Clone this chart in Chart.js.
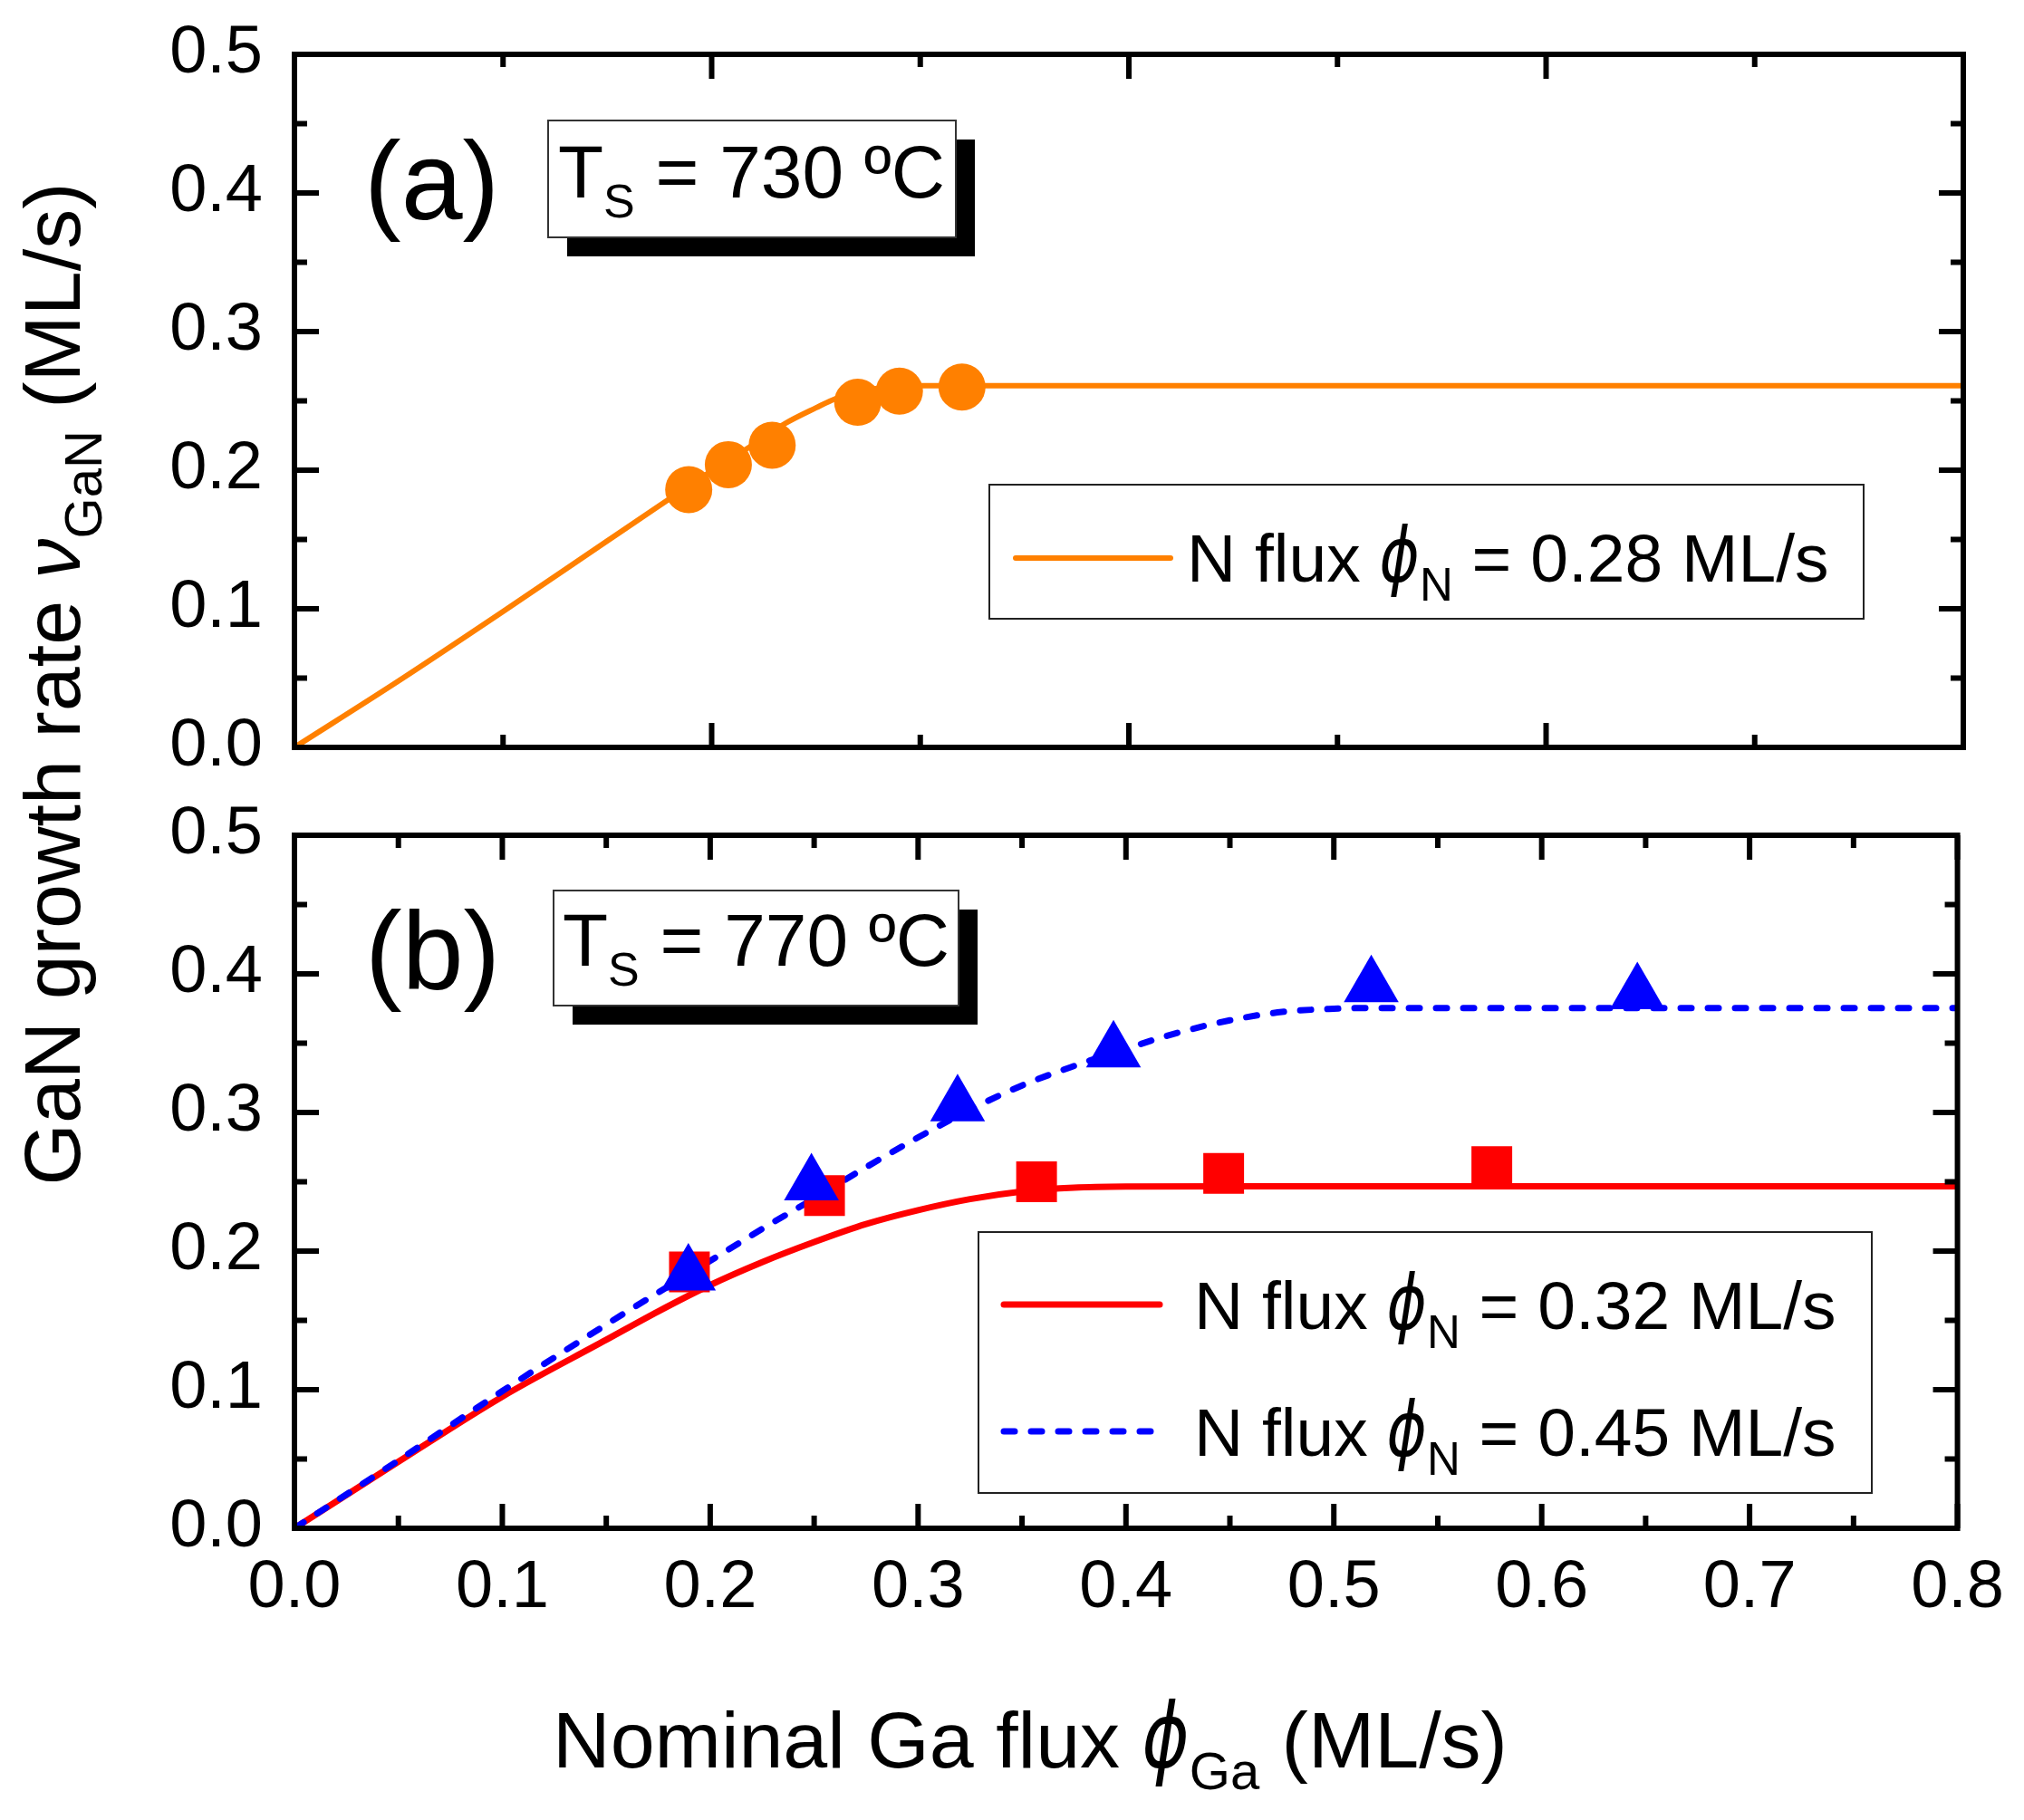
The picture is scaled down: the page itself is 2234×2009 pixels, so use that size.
<!DOCTYPE html>
<html><head><meta charset="utf-8">
<script src="https://cdn.jsdelivr.net/npm/chart.js@4.4.1/dist/chart.umd.min.js"></script>
<style>
html,body{margin:0;padding:0;background:#fff;}
#wrap{position:relative;width:2234px;height:2009px;background:#fff;}
canvas{position:absolute;left:0;top:0;width:2234px;height:2009px;}
</style></head><body>
<div id="wrap"><canvas id="ca" width="2234" height="2009"></canvas><canvas id="cb" width="2234" height="2009"></canvas></div>
<script>
// ---------- data ----------
// (a) Ts = 730 C
const ptsAx   = [0.189, 0.208, 0.229, 0.270, 0.290, 0.320];
const ptsAy   = [0.186, 0.204, 0.218, 0.249, 0.257, 0.260];
const curveAx = [0, 0.05, 0.10, 0.15, 0.20, 0.22, 0.235, 0.25, 0.26, 0.27, 0.28, 0.29, 0.30, 0.32, 0.80];
const curveAy = [0, 0.048, 0.098, 0.149, 0.1995, 0.2185, 0.2335, 0.245, 0.252, 0.2565, 0.2592, 0.2605, 0.261, 0.261, 0.261];
// (b) Ts = 770 C, red squares (0.32 ML/s)
const ptsRx   = [0.190, 0.255, 0.357, 0.447, 0.576];
const ptsRy   = [0.185, 0.240, 0.250, 0.256, 0.261];
const curveRx = [0, 0.05, 0.10, 0.15, 0.175, 0.20, 0.225, 0.25, 0.275, 0.30, 0.325, 0.35, 0.375, 0.40, 0.45, 0.80];
const curveRy = [0, 0.048, 0.095, 0.136, 0.1565, 0.1755, 0.192, 0.2065, 0.2195, 0.2295, 0.2375, 0.243, 0.2458, 0.2466, 0.2468, 0.2468];
// (b) blue triangles (0.45 ML/s)
const ptsBx   = [0.1895, 0.2487, 0.319, 0.394, 0.518, 0.646];
const ptsBy   = [0.183, 0.248, 0.305, 0.344, 0.391, 0.386];
const curveBx = [0, 0.05, 0.10, 0.15, 0.20, 0.225, 0.25, 0.275, 0.30, 0.325, 0.35, 0.375, 0.40, 0.425, 0.45, 0.475, 0.50, 0.52, 0.80];
const curveBy = [0, 0.049, 0.099, 0.147, 0.193, 0.216, 0.238, 0.2605, 0.282, 0.302, 0.3195, 0.3335, 0.346, 0.3575, 0.3665, 0.3725, 0.3748, 0.3754, 0.3754];
// labels
const nFlux   = ['0.28', '0.32', '0.45'];
const temps   = ['730', '770'];
const panels  = ['(a)', '(b)'];
const yTicks  = [0, 0.5, 0.1];   // min, max, step
const xTicks  = [0, 0.8, 0.1];

// ---------- helpers ----------
const FAM = "'Liberation Sans', Arial, Helvetica, sans-serif";
const PHI = "'DejaVu Sans'";
Chart.defaults.font.family = FAM;
Chart.defaults.color = '#000';
const ORANGE = '#FF8000', RED = '#FF0000', BLUE = '#0000FF';
const W = 2234, H = 2009;

function pts(xs, ys) { return xs.map((x, i) => ({x: x, y: ys[i]})); }

function drawRich(ctx, parts, x, y, align) {
  ctx.textAlign = 'left'; ctx.textBaseline = 'alphabetic';
  let w = 0;
  const m = parts.map(p => { ctx.font = p.font; const pw = ctx.measureText(p.t).width * (p.sx || 1); w += pw; return pw; });
  let cx = align === 'center' ? x - w / 2 : x;
  parts.forEach((p, i) => {
    ctx.font = p.font;
    if (p.sx) {
      ctx.save(); ctx.translate(cx, y + (p.dy || 0)); ctx.scale(p.sx, 1); ctx.fillText(p.t, 0, 0); ctx.restore();
    } else {
      ctx.fillText(p.t, cx, y + (p.dy || 0));
    }
    cx += m[i];
  });
}
function phiPart(size) {
  return {t: 'ϕ', font: `italic 200 ${Math.round(size * 1.12)}px ${PHI}`, sx: 0.8};
}
function fluxParts(size, value) {
  return [
    {t: 'N flux ', font: `${size}px ${FAM}`},
    phiPart(size),
    {t: 'N', font: `${Math.round(size * 0.68)}px ${FAM}`, dy: size * 0.28},
    {t: ` = ${value} ML/s`, font: `${size}px ${FAM}`}
  ];
}

const framePlugin = {
  id: 'frame',
  afterDatasetsDraw(chart, args, o) {
    const ctx = chart.ctx, a = chart.chartArea;
    const xs = chart.scales.x, ys = chart.scales.y;
    ctx.save();
    ctx.strokeStyle = '#000'; ctx.lineWidth = o.width; ctx.lineCap = 'butt'; ctx.setLineDash([]);
    const each = (s, step, fn) => { const n = Math.round((s.max - s.min) / step); for (let i = 0; i <= n; i++) fn(s.getPixelForValue(s.min + i * step)); };
    ctx.beginPath();
    const tick = (s, step, len, horiz) => each(s, step, p => {
      if (horiz) { ctx.moveTo(p, a.bottom); ctx.lineTo(p, a.bottom - len); ctx.moveTo(p, a.top); ctx.lineTo(p, a.top + len); }
      else { ctx.moveTo(a.left, p); ctx.lineTo(a.left + len, p); ctx.moveTo(a.right, p); ctx.lineTo(a.right - len, p); }
    });
    tick(xs, o.xMinor, o.minorLen, true); tick(xs, o.xMajor, o.majorLen, true);
    tick(ys, o.yMinor, o.minorLen, false); tick(ys, o.yMajor, o.majorLen, false);
    ctx.stroke();
    ctx.lineJoin = 'miter';
    ctx.strokeRect(a.left, a.top, a.right - a.left, a.bottom - a.top);
    ctx.restore();
  }
};

const notePlugin = {
  id: 'note',
  afterDraw(chart, args, o) {
    const ctx = chart.ctx;
    ctx.save();
    ctx.fillStyle = '#000'; ctx.textAlign = 'left'; ctx.textBaseline = 'alphabetic';
    ctx.font = `122px ${FAM}`;
    ctx.fillText(o.panel, o.panelX, o.panelY);
    const [x0, y0, x1, y1] = o.box;
    ctx.fillStyle = '#000'; ctx.fillRect(x0 + o.shadow, y0 + o.shadow, x1 - x0, y1 - y0);
    ctx.fillStyle = '#fff'; ctx.fillRect(x0, y0, x1 - x0, y1 - y0);
    ctx.strokeStyle = '#333'; ctx.lineWidth = 2; ctx.strokeRect(x0, y0, x1 - x0, y1 - y0);
    ctx.fillStyle = '#000';
    drawRich(ctx, [
      {t: 'T', font: `82px ${FAM}`},
      {t: 'S', font: `52px ${FAM}`, dy: 22},
      {t: ` = ${o.temp} ºC`, font: `82px ${FAM}`}
    ], o.textX, o.textY, 'left');
    ctx.restore();
  }
};

const legendPlugin = {
  id: 'richLegend',
  afterDraw(chart, args, o) {
    const ctx = chart.ctx;
    const [x0, y0, x1, y1] = o.box;
    ctx.save();
    ctx.fillStyle = '#fff'; ctx.fillRect(x0, y0, x1 - x0, y1 - y0);
    ctx.strokeStyle = '#222'; ctx.lineWidth = 2; ctx.strokeRect(x0, y0, x1 - x0, y1 - y0);
    o.items.forEach(it => {
      const ds = chart.data.datasets[it.ds];
      ctx.strokeStyle = ds.borderColor; ctx.lineWidth = ds.borderWidth;
      ctx.setLineDash(ds.borderDash || []); ctx.lineCap = ds.borderCapStyle || 'round';
      ctx.beginPath(); ctx.moveTo(o.lineX[0], it.y); ctx.lineTo(o.lineX[1], it.y); ctx.stroke();
      ctx.setLineDash([]);
      ctx.fillStyle = '#000';
      drawRich(ctx, fluxParts(o.size, it.value), o.textX, it.y + o.baseOff, 'left');
    });
    ctx.restore();
  }
};

const titlePlugin = {
  id: 'axisTitles',
  afterDraw(chart, args, o) {
    const ctx = chart.ctx;
    ctx.save();
    ctx.fillStyle = '#000';
    drawRich(ctx, [
      {t: 'Nominal Ga flux ', font: `88px ${FAM}`},
      phiPart(88),
      {t: 'Ga', font: `58px ${FAM}`, dy: 24},
      {t: ' (ML/s)', font: `88px ${FAM}`}
    ], o.xCenter, o.xBase, 'center');
    ctx.translate(o.yBase, o.yCenter);
    ctx.rotate(-Math.PI / 2);
    drawRich(ctx, [
      {t: 'GaN growth rate ', font: `88px ${FAM}`},
      {t: 'ν', font: `italic 88px ${FAM}`},
      {t: 'GaN', font: `58px ${FAM}`, dy: 24},
      {t: ' (ML/s)', font: `88px ${FAM}`}
    ], 0, 0, 'center');
    ctx.restore();
  }
};

function yScale() {
  return {
    type: 'linear', min: yTicks[0], max: yTicks[1],
    afterFit(s) { s.width = 325; },
    // tick marks themselves are hidden (grid.display false); tickLength only sets the label gap
    grid: {display: false, drawTicks: true, tickLength: 35}, border: {display: false},
    ticks: {stepSize: yTicks[2], padding: 0, font: {size: 74}, color: '#000', callback: v => v.toFixed(1)}
  };
}

// ---------- chart (a) ----------
new Chart(document.getElementById('ca'), {
  type: 'line',
  data: {datasets: [
    {label: 'data 730', data: pts(ptsAx, ptsAy), showLine: false, pointStyle: 'circle',
     pointRadius: 26, pointHoverRadius: 26, pointBackgroundColor: ORANGE, pointBorderColor: ORANGE, pointBorderWidth: 0, order: 0},
    {label: `N flux ϕN = ${nFlux[0]} ML/s`, data: pts(curveAx, curveAy), borderColor: ORANGE, borderWidth: 6,
     pointRadius: 0, cubicInterpolationMode: 'monotone', fill: false, borderCapStyle: 'round', order: 1}
  ]},
  options: {
    responsive: false, animation: false, devicePixelRatio: 1, events: [],
    layout: {autoPadding: false, padding: {left: 0, top: 60, right: W - 2167, bottom: H - 825}},
    scales: {
      x: {type: 'linear', min: xTicks[0], max: xTicks[1], display: false},
      y: yScale()
    },
    plugins: {
      legend: {display: false}, tooltip: {enabled: false},
      frame: {width: 6, majorLen: 27, minorLen: 14, xMajor: 0.2, xMinor: 0.1, yMajor: 0.1, yMinor: 0.05},
      note: {panel: panels[0], panelX: 402, panelY: 242, box: [605, 133, 1055, 262], shadow: 21, temp: temps[0], textX: 616, textY: 218},
      richLegend: {box: [1092, 535, 2057, 683], lineX: [1121, 1292], textX: 1310, baseOff: 26, size: 75,
                   items: [{ds: 1, y: 616, value: nFlux[0]}]}
    }
  },
  plugins: [framePlugin, notePlugin, legendPlugin]
});

// ---------- chart (b) ----------
new Chart(document.getElementById('cb'), {
  type: 'line',
  data: {datasets: [
    {label: 'data 0.45', data: pts(ptsBx, ptsBy), showLine: false, pointStyle: 'triangle',
     pointRadius: 35, pointHoverRadius: 35, pointBackgroundColor: BLUE, pointBorderColor: BLUE, pointBorderWidth: 0, order: 0},
    {label: 'data 0.32', data: pts(ptsRx, ptsRy), showLine: false, pointStyle: 'rect',
     pointRadius: 31.8, pointHoverRadius: 31.8, pointBackgroundColor: RED, pointBorderColor: RED, pointBorderWidth: 0, order: 1},
    {label: `N flux ϕN = ${nFlux[2]} ML/s`, data: pts(curveBx, curveBy), borderColor: BLUE, borderWidth: 7, borderDash: [12, 18],
     borderCapStyle: 'round', pointRadius: 0, cubicInterpolationMode: 'monotone', fill: false, order: 2},
    {label: `N flux ϕN = ${nFlux[1]} ML/s`, data: pts(curveRx, curveRy), borderColor: RED, borderWidth: 7,
     borderCapStyle: 'round', pointRadius: 0, cubicInterpolationMode: 'monotone', fill: false, order: 3}
  ]},
  options: {
    responsive: false, animation: false, devicePixelRatio: 1, events: [],
    layout: {autoPadding: false, padding: {left: 0, top: 922, right: W - 2167, bottom: H - 1687 - 150}},
    scales: {
      x: {type: 'linear', min: xTicks[0], max: xTicks[1],
          afterFit(s) { s.height = 150; },
          grid: {display: false, drawTicks: false}, border: {display: false},
          ticks: {stepSize: xTicks[2], padding: 22, font: {size: 74}, color: '#000', autoSkip: false, maxRotation: 0,
                  callback: v => v.toFixed(1)}},
      y: yScale()
    },
    plugins: {
      legend: {display: false}, tooltip: {enabled: false},
      frame: {width: 6, majorLen: 27, minorLen: 14, xMajor: 0.1, xMinor: 0.05, yMajor: 0.1, yMinor: 0.05},
      note: {panel: panels[1], panelX: 403, panelY: 1092, box: [611, 983, 1058, 1110], shadow: 21, temp: temps[1], textX: 621, textY: 1066},
      richLegend: {box: [1080, 1360, 2066, 1648], lineX: [1108, 1280], textX: 1318, baseOff: 26.5, size: 75,
                   items: [{ds: 3, y: 1440, value: nFlux[1]}, {ds: 2, y: 1580, value: nFlux[2]}]},
      axisTitles: {xCenter: 1137, xBase: 1951, yBase: 88, yCenter: 755}
    }
  },
  plugins: [framePlugin, notePlugin, legendPlugin, titlePlugin]
});
</script></body></html>
